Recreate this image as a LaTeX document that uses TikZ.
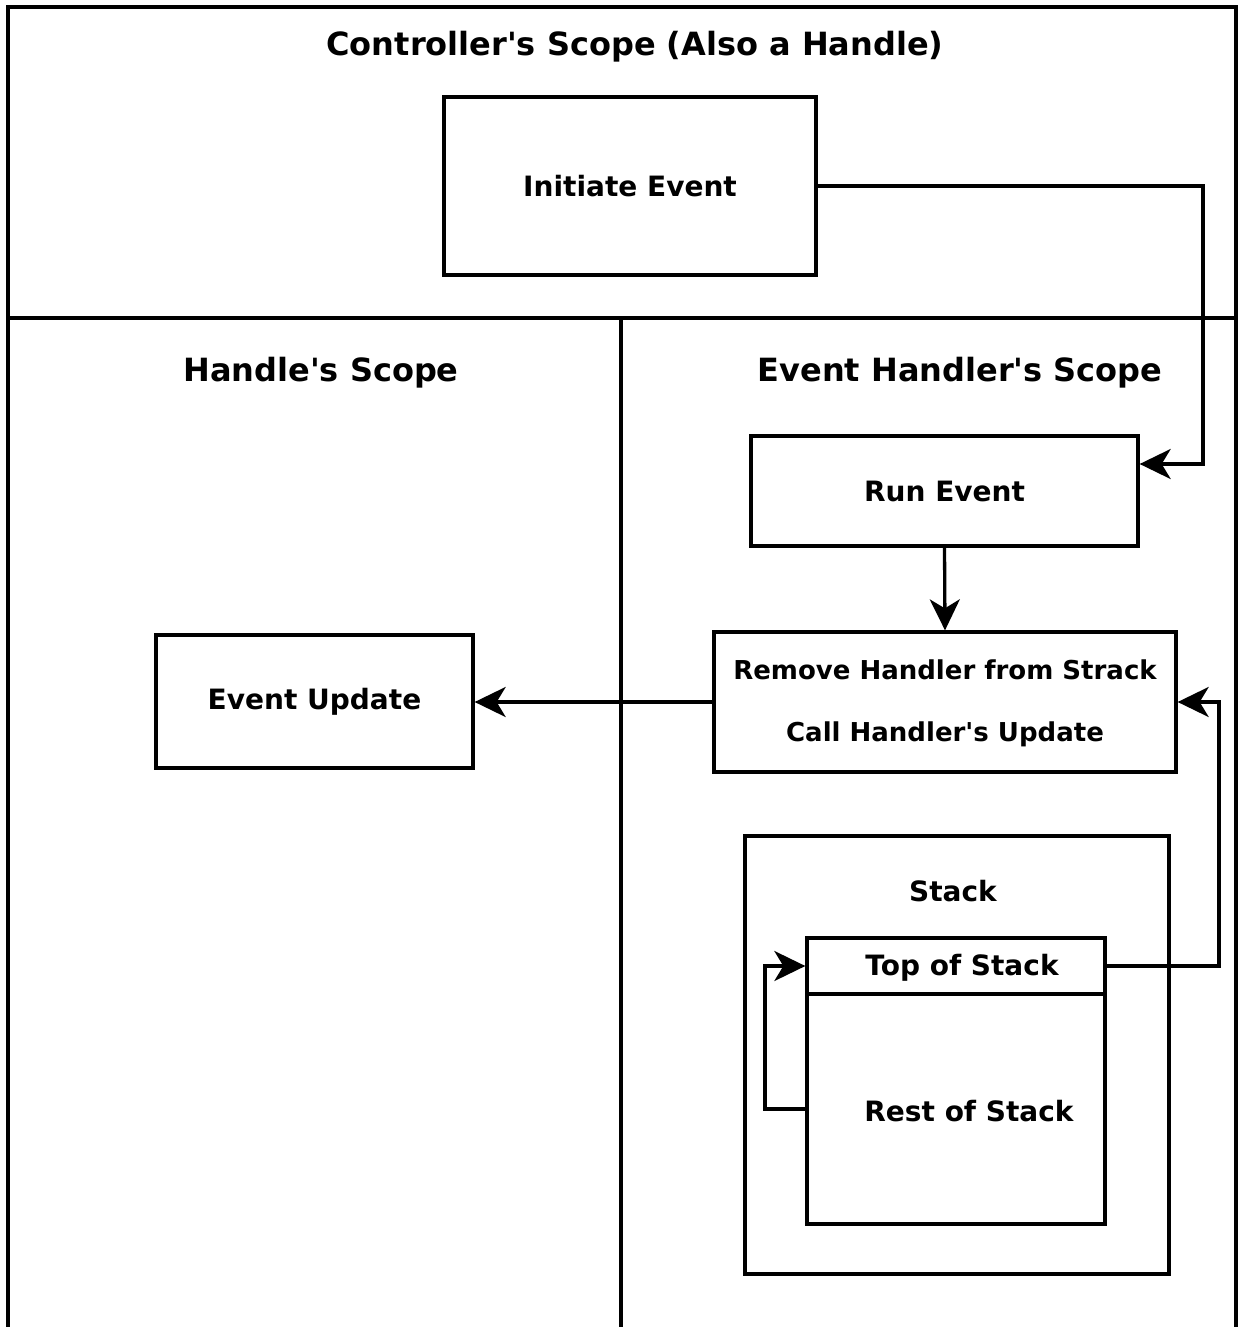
\documentclass[tikz,border=0pt]{standalone}
\usepackage{fontspec}
\newfontfamily\dv{DejaVu Sans}
\usetikzlibrary{arrows.meta}
\begin{document}
\begin{tikzpicture}[x=1pt,y=-1pt,
  line width=3.3pt,
  box/.style={draw,line width=3.3pt},
  lbl/.style={font=\dv\bfseries\fontsize{28}{33}\selectfont,inner sep=0pt},
  sml/.style={font=\dv\bfseries\fontsize{26}{31}\selectfont,inner sep=0pt},
  ttl/.style={font=\dv\bfseries\fontsize{32}{37}\selectfont,inner sep=0pt},
  arr/.style={-{Stealth[length=31pt,width=30pt,inset=9pt]},line width=3.3pt}]
\useasboundingbox (0,0) rectangle (1246,1327);
% lanes
\draw[box] (8,1340) -- (8,7) -- (1236,7) -- (1236,1340);
\draw[box] (8,318) -- (1236,318);
\draw[box] (621,318) -- (621,1340);
\node[ttl] (t0) at (635,47) {Controller's Scope (Also a Handle)};
\node[ttl] (t1) at (321,373) {Handle's Scope};
\node[ttl] (t2) at (960,373) {Event Handler's Scope};
% boxes
\node[box,minimum width=372pt,minimum height=178pt,inner sep=0pt] (init) at (630,186) {};
\node[lbl] at (630,186) {Initiate Event};
\node[box,minimum width=387pt,minimum height=110pt,inner sep=0pt] (run) at (944.5,491) {};
\node[lbl] at (944.5,491) {Run Event};
\node[box,minimum width=462pt,minimum height=140pt,inner sep=0pt] (rem) at (945,702) {};
\node[sml] at (945,670) {Remove Handler from Strack};
\node[sml] at (945,734) {Call Handler's Update};
\node[box,minimum width=317pt,minimum height=133pt,inner sep=0pt] (upd) at (314.5,701.5) {};
\node[lbl] at (314.5,702) {Event Update};
\node[box,minimum width=424pt,minimum height=438pt,inner sep=0pt] (stack) at (957,1055) {};
\node[lbl] at (953,891) {Stack};
\node[box,minimum width=298pt,minimum height=56pt,inner sep=0pt] (top) at (956,966) {};
\node[lbl] at (962,968) {Top of Stack};
\node[box,minimum width=298pt,minimum height=230pt,inner sep=0pt] (rest) at (956,1109) {};
\node[lbl] at (969,1111) {Rest of Stack};
% connectors
\coordinate (c1) at (1203,186);
\coordinate (c2) at (1203,464);
\draw[arr] (init.east) -- (c1) -- (c2) -- (run.east |- c2);
\draw[arr] (run.south) -- (rem.north);
\draw[arr] (rem.west) -- (upd.east |- rem.west);
\coordinate (c3) at (1219,966);
\coordinate (c4) at (1219,702);
\draw[arr] (top.east) -- (c3) -- (c4) -- (rem.east);
\coordinate (c5) at (765,1109);
\coordinate (c6) at (765,966);
\draw[arr] (rest.west) -- (c5) -- (c6) -- (top.west);
\end{tikzpicture}
\end{document}
